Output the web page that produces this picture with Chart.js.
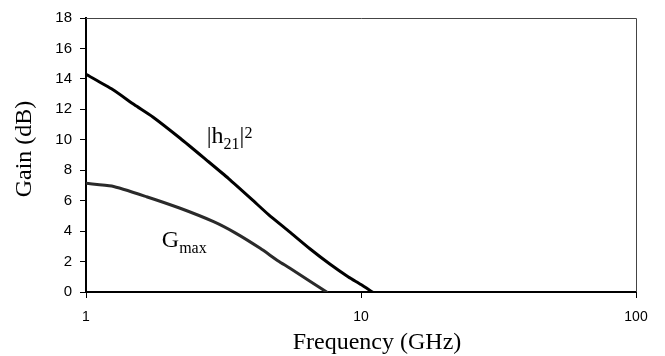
<!DOCTYPE html>
<html>
<head>
<meta charset="utf-8">
<script src="https://cdn.jsdelivr.net/npm/chart.js@4.4.0/dist/chart.umd.min.js"></script>
<style>
  html, body { margin: 0; padding: 0; background: #fff; }
  #wrap { width: 665px; height: 356px; }
</style>
</head>
<body>
<div id="wrap"><canvas id="gainChart"></canvas></div>
<script>
// |h21|^2 (current gain) vs frequency
const freqH21 = [1, 1.25, 1.5, 1.75, 2.2, 2.75, 3.3, 4.0, 4.6, 5.5, 6.5, 7.7, 9.0, 10.0, 11.0];
const gainH21 = [14.3, 13.3, 12.3, 11.5, 10.1, 8.65, 7.45, 6.1, 5.1, 3.95, 2.86, 1.84, 0.99, 0.49, 0];

// Gmax (maximum available gain) vs frequency
const freqGmax = [1, 1.24, 1.66, 2.2, 2.91, 3.5, 4.3, 5.0, 5.5, 6.5, 7.5];
const gainGmax = [7.14, 6.96, 6.26, 5.5, 4.62, 3.87, 2.87, 2.04, 1.58, 0.72, 0];

const freqTicks = [1, 10, 100];
const gainMin = 0;
const gainMax = 18;
const gainStep = 2;

const SERIF = '"Liberation Serif", "Times New Roman", serif';
const SANS = '"Liberation Sans", Arial, sans-serif';

const toPoints = (xs, ys) => xs.map((x, i) => ({ x: x, y: ys[i] }));

// curve labels, anchored in data units (GHz, dB)
const curveLabels = [
  { f: 2.75, g: 9.77, parts: [['|h', 'base'], ['21', 'sub'], ['|', 'base'], ['2', 'sup']] },
  { f: 1.887, g: 2.98, parts: [['G', 'base'], ['max', 'sub']] }
];

const decorations = {
  id: 'decorations',
  afterDraw(chart) {
    const { ctx, chartArea: a, scales } = chart;
    ctx.save();

    // thin frame on top and right of the plot area
    ctx.strokeStyle = '#444';
    ctx.lineWidth = 1;
    ctx.beginPath();
    ctx.moveTo(a.left, a.top + 0.5);
    ctx.lineTo(a.right + 0.5, a.top + 0.5);
    ctx.lineTo(a.right + 0.5, a.bottom);
    ctx.stroke();

    ctx.fillStyle = '#000';
    ctx.font = '24px ' + SERIF;

    // axis titles
    ctx.textAlign = 'center';
    ctx.textBaseline = 'alphabetic';
    ctx.fillText('Frequency (GHz)', (a.left + a.right) / 2 + 16, a.bottom + 57);

    ctx.save();
    ctx.translate(31, (a.top + a.bottom) / 2 - 6);
    ctx.rotate(-Math.PI / 2);
    ctx.fillText('Gain (dB)', 0, 0);
    ctx.restore();

    // curve labels with sub/superscripts
    ctx.textAlign = 'left';
    curveLabels.forEach(lbl => {
      let x = scales.x.getPixelForValue(lbl.f);
      const y = scales.y.getPixelForValue(lbl.g);
      lbl.parts.forEach(([txt, kind]) => {
        let dy = 0;
        if (kind === 'base') {
          ctx.font = '24px ' + SERIF;
        } else {
          ctx.font = '16px ' + SERIF;
          dy = kind === 'sub' ? 6 : -5;
        }
        ctx.fillText(txt, x, y + dy);
        x += ctx.measureText(txt).width;
      });
    });

    ctx.restore();
  }
};

new Chart(document.getElementById('gainChart'), {
  type: 'line',
  data: {
    datasets: [
      {
        label: '|h21|²',
        data: toPoints(freqH21, gainH21),
        borderColor: '#000',
        borderWidth: 3
      },
      {
        label: 'Gmax',
        data: toPoints(freqGmax, gainGmax),
        borderColor: '#2a2a2a',
        borderWidth: 3
      }
    ]
  },
  options: {
    responsive: true,
    maintainAspectRatio: false,
    animation: false,
    layout: { padding: { top: 18, right: 29, left: 0, bottom: 0 } },
    plugins: {
      legend: { display: false },
      tooltip: { enabled: false }
    },
    elements: {
      point: { radius: 0 },
      line: { tension: 0.2, borderCapStyle: 'round', borderJoinStyle: 'round' }
    },
    scales: {
      x: {
        type: 'logarithmic',
        min: 1,
        max: 100,
        afterBuildTicks: s => { s.ticks = freqTicks.map(v => ({ value: v })); },
        afterFit: s => { s.height = 64; },
        grid: { drawOnChartArea: false, tickLength: 6, color: '#000' },
        border: { color: '#000', width: 2 },
        ticks: {
          color: '#000',
          font: { family: SANS, size: 14 },
          padding: 11,
          maxRotation: 0,
          autoSkip: false,
          callback: v => String(v)
        }
      },
      y: {
        min: gainMin,
        max: gainMax,
        afterFit: s => { s.width = 86; },
        grid: { drawOnChartArea: false, tickLength: 6, color: '#000' },
        border: { color: '#000', width: 2 },
        ticks: {
          stepSize: gainStep,
          color: '#000',
          font: { family: SANS, size: 15 },
          padding: 8
        }
      }
    }
  },
  plugins: [decorations]
});
</script>
</body>
</html>
